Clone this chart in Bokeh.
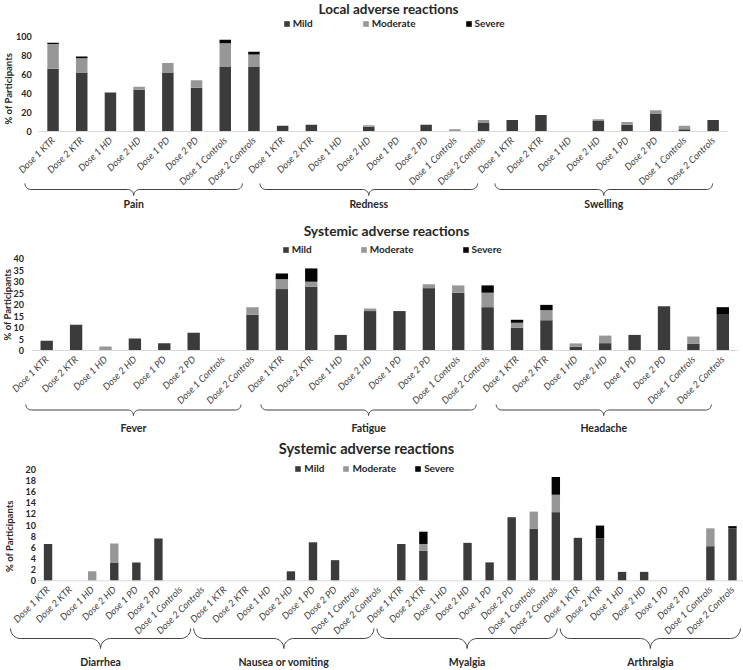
import math
import numpy as np
from bokeh.plotting import figure
from bokeh.layouts import column
from bokeh.models import (ColumnDataSource, LinearAxis, FixedTicker, Legend,
                          LegendItem, Range1d)
from bokeh.core.properties import value
from bokeh.embed import file_html
from bokeh.resources import INLINE

# ---------------- data ----------------
doses = ["Dose 1 KTR", "Dose 2 KTR", "Dose 1 HD", "Dose 2 HD",
         "Dose 1 PD", "Dose 2 PD", "Dose 1 Controls", "Dose 2 Controls"]
severity = ["Mild", "Moderate", "Severe"]
y_title = "% of Participants"

local_title = "Local adverse reactions"
local_groups = ["Pain", "Redness", "Swelling"]
local_mild = [66, 62, 41, 44, 62, 46, 68, 68,
              6, 7, 0, 5, 0, 7, 0, 9,
              12, 17.5, 0, 11, 7, 18.5, 2.5, 12]
local_moderate = [26, 15, 0, 3, 10, 8, 25, 13,
                  0, 0, 0, 1.5, 0, 0, 2.5, 3,
                  0, 0, 0, 2, 3, 4, 3.5, 0]
local_severe = [1.5, 2, 0, 0, 0, 0, 3.5, 3,
                0, 0, 0, 0, 0, 0, 0, 0,
                0, 0, 0, 0, 0, 0, 0, 0]
local_ticks = [0, 20, 40, 60, 80, 100]

sys1_title = "Systemic adverse reactions"
sys1_groups = ["Fever", "Fatigue", "Headache"]
sys1_mild = [4.2, 11.2, 0, 5.2, 3.2, 7.7, 0, 15.6,
             26.8, 27.8, 6.8, 17.2, 17.2, 27.2, 25.2, 18.9,
             9.9, 13.2, 1.6, 3.2, 6.8, 19.3, 2.9, 15.6]
sys1_moderate = [0, 0, 1.7, 0, 0, 0, 0, 3.3,
                 4.3, 2.2, 0, 1.1, 0, 1.7, 3.2, 6.3,
                 2.2, 4.4, 1.5, 3.3, 0, 0, 3.2, 0]
sys1_severe = [0, 0, 0, 0, 0, 0, 0, 0,
               2.5, 5.8, 0, 0, 0, 0, 0, 3.2,
               1.3, 2.3, 0, 0, 0, 0, 0, 3.3]
sys1_ticks = [0, 5, 10, 15, 20, 25, 30, 35, 40]

sys2_title = "Systemic adverse reactions"
sys2_groups = ["Diarrhea", "Nausea or vomiting", "Myalgia", "Arthralgia"]
sys2_mild = [6.6, 0, 0, 3.3, 3.3, 7.6, 0, 0,
             0, 0, 0, 1.7, 6.9, 3.7, 0, 0,
             6.6, 5.4, 0, 6.8, 3.3, 11.4, 9.3, 12.3,
             7.7, 7.6, 1.6, 1.6, 0, 0, 6.2, 9.4]
sys2_moderate = [0, 0, 1.7, 3.4, 0, 0, 0, 0,
                 0, 0, 0, 0, 0, 0, 0, 0,
                 0, 1.2, 0, 0, 0, 0, 3.1, 3.1,
                 0, 0, 0, 0, 0, 0, 3.2, 0]
sys2_severe = [0, 0, 0, 0, 0, 0, 0, 0,
               0, 0, 0, 0, 0, 0, 0, 0,
               0, 2.2, 0, 0, 0, 0, 0, 3.2,
               0, 2.3, 0, 0, 0, 0, 0, 0.4]
sys2_ticks = [0, 2, 4, 6, 8, 10, 12, 14, 16, 18, 20]

# ---------------- style ----------------
FONT = "Lato"
W = 743
COLORS = ["#3b3b3b", "#979797", "#050505"]
TEXT = "#262626"
LABEL_COL = "#404040"


def make_panel(title, groups, mild, moderate, severe, ticks, g):
    n = len(mild)
    H = g["H"]
    x0, x1 = g["x0"], g["x1"]
    slot = (x1 - x0) / n
    ymax = ticks[-1]
    k = (g["r0"] - g["rtop"]) / ymax

    def dx(c):
        return -0.5 + (c - x0) / slot

    def dy(r):
        return (g["r0"] - r) / k

    p = figure(width=W, height=H, x_range=Range1d(dx(0), dx(W)),
               y_range=Range1d(dy(H), dy(0)), output_backend="svg",
               toolbar_location=None, x_axis_location=None, y_axis_location=None,
               min_border=0, outline_line_color=None)
    p.xgrid.visible = False
    p.ygrid.visible = False

    xs = list(range(n))
    src = ColumnDataSource(dict(x=xs, Mild=mild, Moderate=moderate, Severe=severe))
    rs = p.vbar_stack(severity, x="x", width=g["bw"], source=src,
                      fill_color=COLORS, line_color=None)

    # category baseline
    p.segment(x0=[-0.5], y0=[0], x1=[n - 0.5], y1=[0], line_color="#d9d9d9", line_width=1)

    # y axis (value axis) at the left edge of the category area
    ax = LinearAxis(fixed_location=-0.5, ticker=FixedTicker(ticks=ticks),
                    axis_line_color=None, major_tick_line_color=None,
                    minor_tick_line_color=None, major_tick_out=0, major_tick_in=0,
                    major_label_standoff=g["std"], major_label_text_font=FONT,
                    major_label_text_font_size="9px", major_label_text_font_style="bold",
                    major_label_text_color=TEXT)
    p.add_layout(ax, "left")

    # y axis title
    p.text(x=[dx(g["ayx"])], y=[g["ayv"]], text=[y_title], angle=math.pi / 2,
           text_align="center", text_baseline="middle", text_font=value(FONT),
           text_font_size="9.5px", text_font_style="bold", text_color=TEXT)

    # chart title
    p.text(x=[dx(g["tc"])], y=[dy(g["tr"])], text=[title], text_align="center",
           text_baseline="middle", text_font=value(FONT), text_font_size=g["ts"],
           text_font_style="bold", text_color=TEXT)

    # legend
    items = [LegendItem(label=s, renderers=[r]) for s, r in zip(severity, rs)]
    leg = Legend(items=items, orientation="horizontal",
                 location=(g["lc"], H - g["lr"] - 6),
                 padding=0, margin=0, spacing=g["lsp"], label_standoff=3,
                 glyph_width=7, glyph_height=7, label_height=12,
                 label_text_font=FONT, label_text_font_size="10px",
                 label_text_font_style="bold", label_text_color=TEXT,
                 background_fill_alpha=0, border_line_alpha=0)
    p.add_layout(leg)

    # rotated category labels
    labels = [doses[i % len(doses)] for i in range(n)]
    lsrc = ColumnDataSource(dict(x=xs, y=[dy(g["r0"] + 7)] * n, t=labels))
    p.text(x="x", y="y", text="t", source=lsrc, angle=math.pi / 4,
           text_align="right", text_baseline="middle", text_font=value(FONT),
           text_font_style="italic", text_font_size="9.5px", text_color=LABEL_COL)

    # curly braces + group labels
    bxs, bys, cxs = [], [], []
    r = g["bh"] / 2.0
    t = np.linspace(0, math.pi / 2, 12)
    hw = g["bhw"] * slot
    top = g["btop"]
    for gi in range(len(groups)):
        cx = g["bspan"] * gi + g["bshift"]
        cpx = x0 + (cx + 0.5) * slot
        lx = list(cpx - hw + r - r * np.cos(t)) + list(cpx - r + r * np.sin(t))
        ly = list(top + r * np.sin(t)) + list(top + 2 * r - r * np.cos(t))
        rx = [2 * cpx - v for v in lx[::-1]]
        ry = ly[::-1]
        bxs.append([dx(v) for v in lx + rx])
        bys.append([dy(v) for v in ly + ry])
        cxs.append(cx)
    p.multi_line(xs=bxs, ys=bys, line_color="#404040", line_width=1)
    gsrc = ColumnDataSource(dict(x=cxs, y=[dy(g["gr"])] * len(groups), t=groups))
    p.text(x="x", y="y", text="t", source=gsrc, text_align="center", text_baseline="middle",
           text_font=value(FONT), text_font_style="bold", text_font_size="10.5px",
           text_color=TEXT)
    return p


g1 = dict(H=215, x0=38.2, x1=727, rtop=36, r0=131, bw=0.4, std=7, ayx=8, ayv=45,
          tc=388, tr=8, ts="13.5px", lc=282.7, lr=23, lsp=49,
          bshift=2.81, bspan=8.19, bhw=3.79, btop=183, bh=12, gr=203)
g2 = dict(H=220, x0=31.5, x1=737, rtop=43.3, r0=135, bw=0.42, std=8, ayx=7, ayv=20,
          tc=386, tr=15, ts="13.8px", lc=281.7, lr=34, lsp=48,
          bshift=2.95, bspan=8.0, bhw=3.66, btop=189, bh=11, gr=212)
g3 = dict(H=233, x0=36.5, x1=743, rtop=33.7, r0=145.3, bw=0.38, std=1, ayx=9, ayv=8,
          tc=366, tr=13, ts="14.6px", lc=294.3, lr=33.3, lsp=18,
          bshift=2.38, bspan=8.3, bhw=4.08, btop=193, bh=20, gr=226)

p1 = make_panel(local_title, local_groups, local_mild, local_moderate, local_severe, local_ticks, g1)
p2 = make_panel(sys1_title, sys1_groups, sys1_mild, sys1_moderate, sys1_severe, sys1_ticks, g2)
p3 = make_panel(sys2_title, sys2_groups, sys2_mild, sys2_moderate, sys2_severe, sys2_ticks, g3)

layout = column(p1, p2, p3, spacing=0)
open("out.html", "w").write(file_html(layout, INLINE))
